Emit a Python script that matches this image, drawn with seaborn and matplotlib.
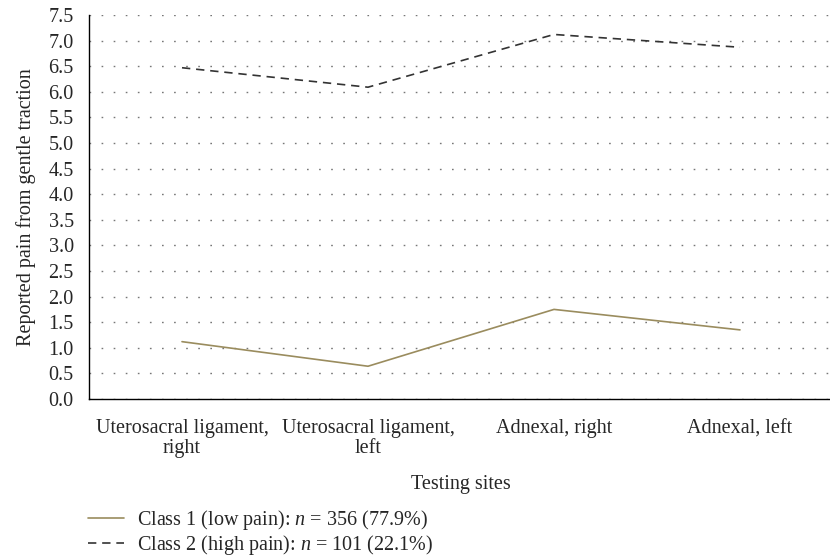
import numpy as np
import pandas as pd
import matplotlib
matplotlib.use("Agg")
import matplotlib.pyplot as plt
import seaborn as sns

# data
sites = ["Uterosacral ligament,\nright", "Uterosacral ligament,\nleft",
         "Adnexal, right", "Adnexal, left"]
class1 = [1.12, 0.64, 1.75, 1.35]
class2 = [6.47, 6.09, 7.12, 6.87]
class_labels = ["Class 1 (low pain): $n$ = 356 (77.9%)",
                "Class 2 (high pain): $n$ = 101 (22.1%)"]
yticks = np.arange(0, 7.51, 0.5)

df = pd.DataFrame({
    "site": sites * 2,
    "x": list(range(len(sites))) * 2,
    "pain": class1 + class2,
    "cls": [class_labels[0]] * len(sites) + [class_labels[1]] * len(sites),
})

sns.set_style("white")
plt.rcParams["font.family"] = ["Liberation Serif", "DejaVu Serif"]
plt.rcParams["mathtext.fontset"] = "custom"
plt.rcParams["mathtext.it"] = "Liberation Serif:italic"
plt.rcParams["mathtext.rm"] = "Liberation Serif"
fsize = 14.5

fig = plt.figure(figsize=(8.3, 5.58), dpi=100)
ax = fig.add_axes([89 / 830, 1 - 399 / 558, (833 - 89) / 830, (399 - 15) / 558])

# dotted horizontal grid
for yv in yticks:
    ax.axhline(yv, color="#777777", linewidth=1.0, linestyle=(0, (1.2, 7.5)), zorder=0)

pal = {class_labels[0]: "#9a8c5e", class_labels[1]: "#333333"}
sns.lineplot(data=df, x="x", y="pain", hue="cls", style="cls", palette=pal,
             dashes={class_labels[0]: "", class_labels[1]: (5, 3.5)},
             linewidth=1.2, ax=ax, legend=False, zorder=3)

ax.set_xlim(-0.5, 3.5)
ax.set_ylim(0, 7.5)
ax.set_yticks(yticks)
ax.set_yticklabels([f"{v:.1f}" for v in yticks], fontsize=fsize)
ax.set_xticks(range(len(sites)))
ax.set_xticklabels(sites, fontsize=fsize, linespacing=1.05)
ax.set_xticks(np.arange(-0.5, 3.6, 1), minor=True)
ax.tick_params(axis="x", which="major", length=0, pad=14.5)
ax.tick_params(axis="x", which="minor", length=5, width=1, color="black", direction="out")
ax.tick_params(axis="y", length=6, width=1, color="black", direction="out", pad=5)

ax.set_xlabel("Testing sites", fontsize=fsize, labelpad=12)
ax.set_ylabel("Reported pain from gentle traction", fontsize=fsize, labelpad=9)

for s in ["top", "right"]:
    ax.spines[s].set_visible(False)
for s in ["left", "bottom"]:
    ax.spines[s].set_color("black")
    ax.spines[s].set_linewidth(1.0)

# legend below the axes
handles = [plt.Line2D([], [], color=pal[class_labels[0]], linewidth=1.2),
           plt.Line2D([], [], color=pal[class_labels[1]], linewidth=1.2, linestyle=(0, (5, 3.5)))]
fig.legend(handles, class_labels, loc="upper left", bbox_to_anchor=(88 / 830, 1 - 508 / 558),
           frameon=False, fontsize=fsize, handlelength=1.8, handletextpad=0.65,
           labelspacing=0.05, borderaxespad=0, borderpad=0)

fig.savefig("out.png", dpi=100)
